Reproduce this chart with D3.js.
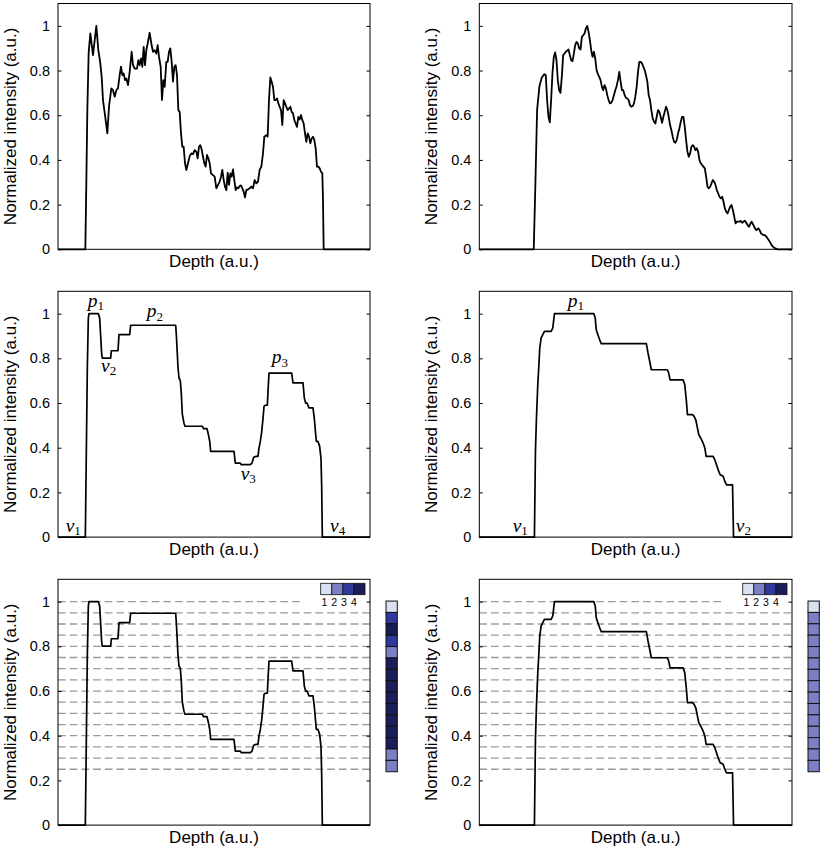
<!DOCTYPE html>
<html><head><meta charset="utf-8">
<script src="https://cdn.jsdelivr.net/npm/d3@7"></script>
<style>body{margin:0;background:#fff}svg{display:block}</style>
</head><body>
<script>
// ---------------- DATA ----------------
const yTicks = [0, 0.2, 0.4, 0.6, 0.8, 1];
const depthDomain = [0, 936];
const intensityDomain = [0, 1.1];

// Raw normalized profile, left column  [depth, intensity]
const rawA = [[0,0],[82,0],[85,0.30],[88,0.62],[92,0.88],[97,0.966],[105,0.869],[115,1.0],[121,0.891],[127,0.832],[131,0.772],[135,0.668],[139,0.623],[143,0.578],[148,0.519],[153,0.638],[160,0.720],[165,0.712],[170,0.683],[175,0.712],[180,0.720],[185,0.779],[189,0.817],[193,0.779],[197,0.787],[201,0.757],[205,0.765],[210,0.735],[215,0.794],[221,0.884],[225,0.824],[230,0.809],[237,0.809],[241,0.846],[245,0.824],[249,0.854],[253,0.817],[257,0.906],[261,0.824],[265,0.891],[269,0.921],[275,0.969],[280,0.921],[285,0.884],[290,0.891],[295,0.876],[299,0.914],[303,0.861],[308,0.817],[312,0.668],[316,0.757],[320,0.727],[325,0.839],[329,0.839],[333,0.884],[337,0.899],[341,0.839],[345,0.750],[349,0.817],[353,0.824],[357,0.779],[361,0.623],[365,0.615],[369,0.519],[373,0.459],[377,0.459],[381,0.385],[385,0.355],[390,0.385],[395,0.417],[400,0.429],[405,0.426],[410,0.444],[415,0.437],[419,0.407],[423,0.459],[427,0.466],[431,0.447],[435,0.414],[439,0.385],[443,0.370],[447,0.422],[451,0.407],[455,0.385],[459,0.340],[465,0.332],[470,0.325],[475,0.273],[480,0.288],[485,0.303],[489,0.325],[493,0.355],[497,0.310],[501,0.280],[505,0.265],[509,0.343],[513,0.288],[517,0.340],[521,0.325],[525,0.358],[529,0.310],[533,0.265],[537,0.277],[541,0.273],[545,0.283],[549,0.286],[553,0.273],[557,0.258],[561,0.232],[565,0.265],[570,0.268],[575,0.273],[580,0.280],[585,0.273],[590,0.310],[595,0.295],[600,0.303],[605,0.355],[610,0.370],[615,0.429],[619,0.504],[625,0.511],[629,0.504],[633,0.668],[637,0.769],[641,0.750],[645,0.727],[649,0.668],[653,0.668],[657,0.675],[661,0.653],[665,0.638],[669,0.623],[673,0.556],[677,0.668],[681,0.653],[685,0.638],[689,0.623],[693,0.630],[697,0.638],[701,0.615],[705,0.608],[709,0.578],[713,0.563],[717,0.548],[721,0.593],[725,0.581],[729,0.601],[733,0.578],[737,0.563],[741,0.519],[745,0.481],[749,0.519],[753,0.504],[757,0.474],[761,0.496],[765,0.504],[769,0.489],[773,0.452],[777,0.370],[781,0.370],[785,0.362],[789,0.347],[793,0.340],[795,0.221],[797,0],[936,0]];

// Raw normalized profile, right column
const rawB = [[0,0],[163,0],[168,0.30],[173,0.623],[180,0.730],[187,0.769],[195,0.784],[199,0.779],[203,0.668],[207,0.593],[211,0.568],[215,0.668],[219,0.787],[223,0.861],[227,0.881],[231,0.846],[235,0.757],[239,0.712],[243,0.700],[247,0.772],[251,0.869],[255,0.876],[259,0.884],[263,0.889],[267,0.894],[271,0.869],[275,0.846],[279,0.842],[283,0.876],[287,0.914],[291,0.928],[295,0.921],[299,0.899],[303,0.894],[307,0.951],[311,0.958],[315,0.966],[319,0.988],[323,1.0],[327,0.973],[331,0.936],[335,0.891],[339,0.861],[343,0.884],[347,0.854],[351,0.802],[355,0.784],[359,0.772],[363,0.757],[367,0.727],[371,0.712],[375,0.735],[379,0.720],[383,0.690],[387,0.668],[391,0.653],[395,0.656],[399,0.668],[403,0.690],[407,0.712],[411,0.730],[415,0.757],[419,0.794],[423,0.750],[427,0.712],[431,0.712],[435,0.690],[439,0.678],[443,0.675],[447,0.668],[451,0.645],[455,0.638],[459,0.641],[463,0.653],[467,0.683],[471,0.727],[475,0.794],[479,0.839],[483,0.839],[487,0.832],[491,0.817],[495,0.802],[499,0.779],[503,0.750],[507,0.690],[511,0.668],[515,0.623],[519,0.586],[523,0.571],[527,0.563],[531,0.593],[535,0.623],[539,0.615],[543,0.593],[547,0.566],[551,0.593],[555,0.615],[559,0.638],[563,0.623],[567,0.593],[571,0.556],[575,0.533],[579,0.504],[583,0.481],[587,0.477],[591,0.489],[595,0.519],[599,0.541],[603,0.571],[607,0.593],[611,0.593],[615,0.548],[619,0.489],[623,0.437],[627,0.414],[631,0.429],[635,0.459],[639,0.466],[643,0.459],[647,0.444],[651,0.452],[655,0.437],[659,0.399],[663,0.385],[667,0.377],[671,0.370],[675,0.362],[679,0.325],[683,0.280],[687,0.273],[691,0.280],[695,0.295],[699,0.310],[703,0.303],[707,0.288],[711,0.265],[715,0.250],[719,0.235],[723,0.228],[727,0.235],[731,0.213],[735,0.183],[739,0.168],[743,0.161],[747,0.176],[751,0.191],[755,0.198],[759,0.176],[763,0.146],[767,0.116],[771,0.124],[775,0.124],[779,0.124],[783,0.127],[787,0.119],[791,0.124],[795,0.128],[799,0.119],[803,0.109],[807,0.101],[811,0.113],[815,0.124],[819,0.113],[823,0.101],[827,0.089],[831,0.086],[835,0.094],[839,0.086],[843,0.072],[847,0.067],[851,0.063],[855,0.063],[859,0.057],[863,0.048],[867,0.040],[871,0.030],[875,0.019],[879,0.012],[883,0.006],[893,0],[936,0]];

// Stepwise (quantized) profile, left column
const stepA = [[0,0],[82,0],[85,0.38],[88,0.76],[91,0.98],[93,1.0],[121,1.0],[125,0.98],[128,0.90],[131,0.82],[133,0.801],[158,0.801],[160,0.834],[180,0.834],[183,0.906],[215,0.906],[218,0.948],[353,0.948],[355,0.906],[360,0.76],[363,0.712],[367,0.70],[370,0.64],[373,0.55],[375,0.533],[378,0.51],[381,0.496],[433,0.496],[437,0.485],[447,0.485],[451,0.46],[455,0.43],[458,0.384],[528,0.384],[532,0.331],[547,0.331],[550,0.324],[577,0.324],[582,0.331],[587,0.357],[593,0.361],[600,0.361],[603,0.399],[607,0.428],[611,0.47],[615,0.53],[618,0.585],[622,0.59],[628,0.59],[631,0.68],[633,0.734],[701,0.734],[705,0.690],[735,0.690],[739,0.622],[743,0.600],[747,0.600],[753,0.578],[765,0.578],[769,0.53],[775,0.428],[780,0.428],[785,0.406],[789,0.35],[791,0.23],[793,0],[936,0]];

// Stepwise (quantized) profile, right column
const stepB = [[0,0],[165,0],[168,0.38],[171,0.53],[175,0.68],[178,0.76],[181,0.846],[185,0.891],[190,0.906],[195,0.921],[215,0.921],[220,0.936],[225,1.0],[343,1.0],[347,0.981],[350,0.928],[355,0.906],[360,0.884],[365,0.866],[500,0.866],[505,0.824],[510,0.787],[515,0.749],[563,0.749],[567,0.734],[571,0.704],[610,0.704],[615,0.682],[620,0.607],[623,0.548],[638,0.548],[643,0.540],[648,0.525],[653,0.488],[657,0.458],[663,0.443],[670,0.421],[675,0.399],[679,0.361],[700,0.361],[705,0.346],[710,0.324],[715,0.301],[721,0.279],[730,0.272],[735,0.249],[740,0.234],[758,0.234],[761,0],[936,0]];

// Threshold levels (dashed lines) and per-level class shown in side bar
const thresholds = [1.00,0.95,0.90,0.85,0.80,0.75,0.70,0.65,0.60,0.55,0.50,0.45,0.40,0.35,0.30,0.25];
const barLevels  = [1.00,0.95,0.90,0.85,0.80,0.75,0.70,0.65,0.60,0.55,0.50,0.45,0.40,0.35,0.30];
const classesA   = [1,3,4,3,2,4,4,4,4,4,4,4,4,2,2];
const classesB   = [1,2,2,2,2,2,2,2,2,2,2,2,2,2,2];
const legendClasses = [1,2,3,4];
const classColors = ["#d8e0f2","#7d7fc5","#2e399c","#1b1c5a"];

// Peak / valley annotations [label, subscript, depth, intensity]
const annotA = [["p","1",89,1.032],["p","2",266,0.984],["v","2",129,0.739],["v","3",548,0.257],["p","3",641,0.778],["v","1",23,0.025],["v","4",816,0.025]];
const annotB = [["p","1",265,1.032],["v","1",100,0.025],["v","2",768,0.025]];

// ---------------- LAYOUT ----------------
const W = 823, H = 850;
const colX = [58, 479.3], colW = [312, 312.7];
const rowY = [3.5, 291.3, 579.3], plotH = 245.8;
const sans = "'Liberation Sans', Arial, Helvetica, sans-serif";
const serif = "'Liberation Serif', 'Times New Roman', serif";

const svg = d3.select("body").append("svg").attr("width", W).attr("height", H);

const panels = [
  {row:0,col:0,data:rawA,lw:1.8},
  {row:0,col:1,data:rawB,lw:1.8},
  {row:1,col:0,data:stepA,lw:1.7,annot:annotA},
  {row:1,col:1,data:stepB,lw:1.7,annot:annotB},
  {row:2,col:0,data:stepA,lw:1.7,dashed:true,classes:classesA},
  {row:2,col:1,data:stepB,lw:1.7,dashed:true,classes:classesB}
];

const color = d3.scaleOrdinal().domain(legendClasses).range(classColors);

panels.forEach(p => {
  const x0 = colX[p.col], w = colW[p.col], y0 = rowY[p.row];
  const x = d3.scaleLinear().domain(depthDomain).range([0, w]);
  const y = d3.scaleLinear().domain(intensityDomain).range([plotH, 0]);
  const g = svg.append("g").attr("transform", `translate(${x0},${y0})`);

  if (p.dashed) {
    g.selectAll("line.th").data(thresholds).join("line")
      .attr("x1", 0).attr("x2", w)
      .attr("y1", d => y(d)).attr("y2", d => y(d))
      .attr("stroke", "#9a9a9a").attr("stroke-width", 1.3)
      .attr("stroke-dasharray", "7.7,4");
    // legend background (hides dashed line under legend)
    g.append("rect").attr("x", w - 67).attr("y", 1).attr("width", 66).attr("height", y(1) + 4)
      .attr("fill", "#fff");
  }

  const line = d3.line().x(d => x(d[0])).y(d => y(d[1]));
  g.append("path").datum(p.data).attr("d", line)
    .attr("fill", "none").attr("stroke", "#000").attr("stroke-width", p.lw)
    .attr("stroke-linejoin", "round");

  // frame
  g.append("rect").attr("x", 0).attr("y", 0).attr("width", w).attr("height", plotH)
    .attr("fill", "none").attr("stroke", "#000").attr("stroke-width", 1);

  // axes
  const ax = g.append("g").call(d3.axisLeft(y).tickValues(yTicks).tickSizeInner(-3.5).tickSizeOuter(0).tickPadding(8).tickFormat(d => String(d)));
  ax.select(".domain").remove();
  ax.selectAll("line").attr("stroke", "#000");
  ax.selectAll("text").attr("font-family", sans).attr("font-size", 14.5).attr("fill", "#000");
  const ar = g.append("g").attr("transform", `translate(${w},0)`)
    .call(d3.axisRight(y).tickValues(yTicks).tickSizeInner(-3.5).tickSizeOuter(0).tickFormat(""));
  ar.select(".domain").remove();
  ar.selectAll("line").attr("stroke", "#000");

  // labels
  g.append("text").attr("x", w / 2).attr("y", plotH + 17.5).attr("text-anchor", "middle")
    .attr("font-family", sans).attr("font-size", 17).text("Depth (a.u.)");
  g.append("text").attr("transform", `translate(-42.5,${plotH / 2}) rotate(-90)`)
    .attr("text-anchor", "middle").attr("font-family", sans).attr("font-size", 17)
    .text("Normalized intensity (a.u.)");

  // annotations
  if (p.annot) {
    p.annot.forEach(a => {
      const t = g.append("text").attr("x", x(a[2])).attr("y", y(a[3]))
        .attr("font-family", serif).attr("font-style", "italic").attr("font-size", 19.5).text(a[0]);
      t.append("tspan").attr("font-style", "normal").attr("font-size", 13).attr("dy", 3.5).text(a[1]);
    });
  }

  if (p.classes) {
    // legend
    const lx = d3.scaleBand().domain(legendClasses).range([w - 49.3, w - 5]).paddingInner(0);
    const leg = g.append("g");
    leg.selectAll("rect").data(legendClasses).join("rect")
      .attr("x", d => lx(d)).attr("y", 4).attr("width", lx.bandwidth()).attr("height", 11.4)
      .attr("fill", d => color(d)).attr("stroke", "#111").attr("stroke-width", 0.8);
    const lt = d3.scalePoint().domain(legendClasses).range([w - 45.5, w - 16.2]);
    leg.selectAll("text").data(legendClasses).join("text")
      .attr("x", d => lt(d)).attr("y", 27).attr("text-anchor", "middle")
      .attr("font-family", sans).attr("font-size", 10.5).text(d => d);
    // side bar
    const by = d3.scaleBand().domain(barLevels).range([y(1) - 0.6, y(1) - 0.6 + 15 * 11.38]);
    g.append("g").attr("transform", `translate(${w + 16},0)`)
      .selectAll("rect").data(barLevels).join("rect")
      .attr("x", 0).attr("y", d => by(d)).attr("width", 11.3).attr("height", by.bandwidth())
      .attr("fill", (d, i) => color(p.classes[i])).attr("stroke", "#111").attr("stroke-width", 1);
  }
});
</script>
</body></html>
